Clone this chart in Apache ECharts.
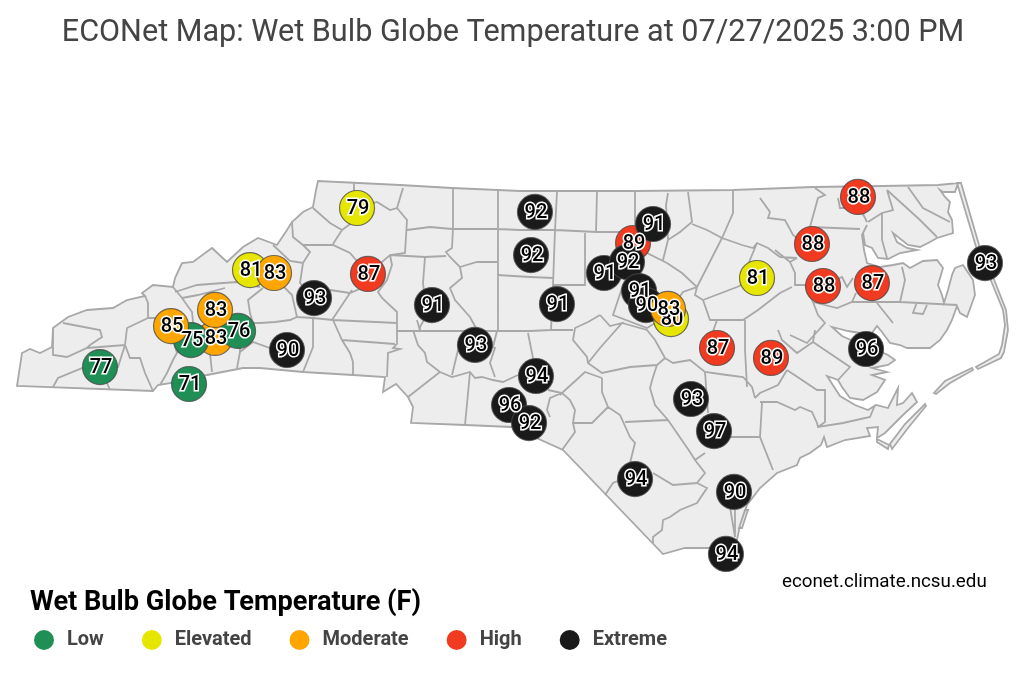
<!DOCTYPE html>
<html><head><meta charset="utf-8">
<style>html,body{margin:0;padding:0;background:#fff}#c{width:1024px;height:683px}</style>
<script src="https://cdn.jsdelivr.net/npm/echarts@6/dist/echarts.min.js"></script>
</head><body><div id="c"></div>
<script>
// ---- station readings (drawing order = stacking order)
const stationLon = [-83.577,-82.780,-82.547,-82.341,-82.762,-82.941,-82.547,-82.234,-82.019,-81.903,-81.661,-81.276,-81.178,-80.605,-80.220,-79.674,-79.915,-79.736,-79.683,-79.718,-79.486,-78.805,-78.626,-79.065,-78.859,-78.751,-78.689,-78.465,-78.492,-77.695,-78.053,-77.570,-78.286,-78.080,-78.787,-77.901,-77.973,-76.791,-77.203,-77.104,-76.666,-76.719,-75.654];
const stationLat = [35.261,35.140,35.469,35.519,35.454,35.554,35.669,35.954,35.933,35.383,35.754,36.397,35.926,35.704,35.419,35.197,34.990,34.861,36.369,36.061,35.711,36.147,36.283,35.933,36.011,35.804,35.704,35.604,35.676,35.897,35.397,35.326,35.033,34.804,34.461,34.369,33.926,36.476,36.140,35.840,35.861,35.390,36.004];
const stationVal = [77,71,83,76,75,85,83,81,83,90,93,79,87,91,93,94,96,92,92,92,91,89,91,91,92,91,90,80,83,81,87,89,93,97,94,90,94,88,88,88,87,96,93];
const catNames = ['Low','Elevated','Moderate','High','Extreme'];
const catColors = ['#1f8f55','#e6e600','#ffa500','#f03b20','#1a1a1a'];
const catUpper = [78,82,86,90,999]; // value below this belongs to the category

// ---- basemap trace (image-scale tracing, converted to lon/lat below)
const stateOutline = [[17,386],[22,353],[30,349],[40,353],[52,347],[53,328],[68,317],[87,310],[113,308],[127,300],[145,296],[142,293],[153,285],[173,287],[175,278],[182,263],[193,262],[212,248],[227,262],[243,247],[258,238],[277,245],[287,230],[292,222],[303,212],[313,207],[316,190],[318,181],[400,185],[452,188],[498,190],[520,191],[635,191],[733,190],[813,187],[883,186],[938,185],[958,183],[955,192],[943,192],[940,190],[945,197],[950,202],[948,212],[952,220],[953,233],[937,238],[930,242],[920,247],[908,245],[893,233],[897,242],[907,248],[917,250],[900,253],[888,259],[878,258],[872,248],[865,245],[863,233],[867,225],[862,235],[864,250],[867,263],[880,267],[893,265],[903,263],[910,268],[923,261],[937,260],[943,268],[938,285],[942,295],[944,303],[948,290],[952,275],[955,268],[963,265],[973,280],[975,295],[967,317],[960,313],[957,306],[952,320],[947,330],[940,340],[930,348],[917,348],[907,348],[900,345],[890,343],[882,332],[877,326],[872,333],[860,333],[848,331],[832,327],[842,336],[855,342],[868,346],[888,355],[895,360],[888,365],[872,368],[887,372],[872,375],[885,380],[877,392],[863,400],[850,398],[842,387],[838,380],[827,376],[840,396],[855,405],[868,410],[876,405],[888,408],[893,398],[898,388],[897,405],[903,403],[912,393],[917,402],[903,415],[885,433],[877,438],[878,427],[867,428],[870,436],[845,440],[827,447],[824,437],[821,445],[810,453],[800,458],[797,465],[777,473],[760,488],[747,505],[740,525],[737,540],[710,548],[685,548],[663,554],[563,450],[512,427],[465,425],[411,423],[413,407],[408,397],[396,384],[383,392],[385,377],[353,375],[303,372],[260,368],[243,368],[207,375],[189,380],[158,385],[153,391]];
const barrierIslands = [
 [[957,183],[961,183],[979,245],[988,265],[995,282],[1006,310],[1008,330],[1004,352],[1001,358],[978,369],[976,367],[999,354],[1002,345],[1005,325],[1003,310],[992,283],[977,250]],
 [[972,368],[973,370],[950,383],[936,394],[934,393],[945,381]],
 [[925,404],[926,406],[908,428],[892,449],[890,444],[905,424]],
 [[877,439],[889,445],[888,449],[877,442]],
 [[745,510],[748,510],[742,528],[739,528]]
];
const countyLines = [
 [[53,328],[53,355],[67,357],[87,348],[125,345],[130,358],[140,358],[145,373],[153,391]],
 [[63,323],[100,330],[102,337],[90,345],[87,348]],
 [[125,345],[127,328],[148,318],[148,303],[145,296]],
 [[53,387],[58,378],[85,367],[100,367]],[[100,367],[110,390]],[[100,367],[118,367],[125,345]],
 [[148,318],[160,318],[170,330],[177,353],[173,360],[167,373],[160,385]],
 [[173,287],[182,298],[192,312],[193,322],[191,340]],
 [[175,292],[197,285],[223,283],[237,282],[260,287]],
 [[182,298],[198,295],[225,288]],
 [[191,340],[177,353]],
 [[210,340],[210,353],[212,372]],
 [[240,345],[240,352],[237,368]],
 [[240,352],[253,342],[270,348],[287,350]],
 [[277,280],[292,295],[297,317]],
 [[263,288],[248,300],[250,313],[253,323],[238,331]],
 [[253,323],[260,323],[275,322],[290,320],[297,317],[313,318],[333,320],[397,323]],
 [[313,318],[313,347],[303,372]],
 [[333,320],[342,340],[350,353],[353,362],[353,375]],
 [[342,340],[395,344]],
 [[292,222],[293,237],[303,245],[333,245],[350,253],[368,274]],
 [[273,245],[290,261],[303,263],[310,252],[303,245]],
 [[303,263],[300,283],[314,298]],
 [[313,208],[330,223],[342,230],[333,244]],
 [[342,230],[353,222],[357,208]],
 [[357,208],[377,202],[390,210],[397,208],[403,188]],
 [[354,183],[354,195]],
 [[397,208],[407,220],[405,253],[390,255],[368,274]],
 [[407,230],[430,227],[452,229],[498,229],[520,230],[555,230],[597,232],[640,232]],
 [[390,255],[425,257],[446,256]],
 [[390,255],[392,265],[387,280],[378,292],[382,298],[397,312],[397,344],[393,348],[400,349],[388,353],[387,377]],
 [[352,290],[332,320]],[[330,290],[350,293],[362,288]],
 [[425,257],[423,283],[425,300]],[[432,305],[420,327],[420,331]],
 [[453,188],[453,228],[452,248],[446,252],[450,257],[460,267],[462,278],[450,288],[455,300],[470,317],[477,330]],
 [[460,267],[477,262],[497,262]],
 [[498,191],[498,330]],
 [[497,275],[530,277],[553,278]],
 [[557,192],[555,230],[553,285],[551,331]],
 [[597,192],[596,232]],[[635,191],[635,225]],
 [[585,233],[585,285],[553,285]],
 [[668,193],[666,205],[668,240],[680,232],[692,222],[688,192]],
 [[668,240],[663,260]],
 [[692,224],[707,230],[722,238],[733,213],[733,190]],
 [[722,238],[697,287],[683,292],[670,310]],
 [[627,262],[647,253],[667,263],[682,273],[697,287],[695,295],[703,300],[710,320],[743,320],[758,310],[780,293],[792,287]],
 [[703,300],[737,287],[757,278]],
 [[722,238],[742,245],[753,248],[757,243],[768,248],[780,257],[797,258]],
 [[757,243],[747,267],[757,278]],
 [[623,285],[613,315],[647,328],[660,320]],
 [[600,315],[610,326],[622,323],[600,348],[588,363]],
 [[600,315],[588,322],[575,328],[573,340],[587,357],[588,363],[602,373],[630,367],[657,365],[665,358],[673,363],[690,360],[705,372],[727,375],[743,377],[752,387],[755,398]],
 [[397,331],[457,331],[530,331],[551,330],[573,330]],
 [[528,333],[533,358]],
 [[413,330],[418,345],[425,353],[427,362],[440,372],[408,397]],
 [[417,320],[420,331]],[[497,331],[493,347],[495,348],[490,363],[495,377]],
 [[440,372],[452,377],[470,372],[475,378],[482,377],[493,380],[503,382],[518,375]],
 [[452,375],[458,350]],
 [[470,372],[465,425]],
 [[548,390],[562,393],[560,395]],
 [[622,323],[647,330],[655,340],[665,358]],
 [[657,365],[653,377],[650,388],[655,405],[668,420],[690,452],[695,460],[705,473],[697,483],[707,488],[697,503],[680,510],[670,517],[663,520],[662,530],[653,537],[653,543]],
 [[705,372],[708,413]],[[705,453],[695,460]],
 [[730,437],[760,437]],[[762,403],[760,437],[773,470]],
 [[602,378],[602,392],[608,407],[620,415],[630,437],[635,443],[630,463]],
 [[625,422],[668,420]],
 [[608,407],[592,423],[573,423],[575,410],[570,400],[562,393],[550,398],[547,410],[550,417]],
 [[562,393],[585,372],[602,378]],
 [[573,423],[575,432],[562,450]],
 [[653,473],[673,485],[697,483]],
 [[605,495],[613,483],[620,480]],
 [[730,507],[735,537]],[[735,510],[735,537]],
 [[760,198],[770,212],[768,218],[785,220],[793,235],[800,240]],
 [[815,188],[825,195],[818,198],[810,227]],
 [[810,227],[860,229]],[[838,198],[840,208],[860,208],[867,222]],
 [[887,190],[893,210],[882,213],[868,222]],[[882,213],[882,240],[887,258]],
 [[887,190],[920,220],[937,237]],
 [[908,187],[923,208],[950,222]],
 [[797,258],[790,262],[775,250]],
 [[790,262],[795,273],[795,285],[805,285],[813,302],[818,315],[825,323],[807,343],[790,335]],
 [[813,302],[837,308],[852,302],[900,302],[957,305]],
 [[852,302],[856,293]],[[823,286],[842,277],[847,287],[853,278]],
 [[900,302],[905,280],[902,267]],
 [[877,303],[885,313],[893,323]],
 [[917,302],[913,313],[923,314],[927,305]],
 [[778,330],[782,340],[797,353],[813,342],[815,330]],
 [[813,342],[850,367],[838,380]],
 [[787,370],[817,390],[825,390],[825,422],[818,427]],
 [[787,370],[778,385],[760,393],[755,398]],
 [[760,402],[777,402],[795,410],[800,407],[812,412],[817,423],[818,427],[843,423],[870,417],[875,405]],
 [[745,320],[745,350],[747,387]],[[717,320],[710,340]]
];

// simple linear relation between the traced sheet and degrees
const toGeo = p => [-84.32 + (p[0]-17)/111.7, 36.59 - (p[1]-181)/140];
const traced = [stateOutline].concat(barrierIslands, countyLines).flat();
const minX = Math.min(...traced.map(p=>p[0])), maxX = Math.max(...traced.map(p=>p[0]));
const minY = Math.min(...traced.map(p=>p[1])), maxY = Math.max(...traced.map(p=>p[1]));
const ring = a => { const r = a.map(toGeo); r.push(r[0]); return r; };
const geoJson = {type:'FeatureCollection',features:[
 {type:'Feature',properties:{name:'North Carolina'},geometry:{type:'MultiPolygon',coordinates:[stateOutline].concat(barrierIslands).map(a=>[ring(a)])}},
 {type:'Feature',properties:{name:'Counties'},geometry:{type:'MultiLineString',coordinates:countyLines.map(l=>l.map(toGeo))}}
]};
echarts.registerMap('nc', geoJson);

const catOf = v => catUpper.findIndex(u => v < u);
const chart = echarts.init(document.getElementById('c'), null, {renderer:'canvas'});
const font = 'Roboto';
chart.setOption({
 animation:false,
 backgroundColor:'#fff',
 title:[
  {text:'ECONet Map: Wet Bulb Globe Temperature at 07/27/2025 3:00 PM',left:508,textAlign:'center',top:13,textStyle:{fontFamily:font,fontSize:30.6,fontWeight:'normal',color:'#444'}},
  {text:'Wet Bulb Globe Temperature (F)',left:25,top:585,textStyle:{fontFamily:font,fontSize:27.2,fontWeight:'bold',color:'#000'}},
  {text:'econet.climate.ncsu.edu',left:777,top:568,textStyle:{fontFamily:font,fontSize:18.8,fontWeight:'normal',color:'#000'}}
 ],
 legend:{left:29,top:625,icon:'circle',itemWidth:20,itemHeight:20,itemGap:38,selectedMode:false,
  data:catNames,textStyle:{fontFamily:font,fontSize:20,fontWeight:'bold',color:'#444',padding:[0,0,0,8]}},
 geo:{map:'nc',silent:true,left:minX,top:minY,width:maxX-minX,height:maxY-minY,
  itemStyle:{areaColor:'#ededed',borderColor:'#a8a8a8',borderWidth:1.8},label:{show:false}},
 series:catNames.map((n,i)=>({name:n,type:'scatter',coordinateSystem:'geo',data:[],itemStyle:{color:catColors[i],opacity:1}})).concat([{
  name:'stations',type:'scatter',coordinateSystem:'geo',symbolSize:35,
  data:stationVal.map((v,i)=>({value:[stationLon[i],stationLat[i],v],itemStyle:{color:catColors[catOf(v)],opacity:1}})),
  itemStyle:{borderColor:'rgba(70,70,70,0.75)',borderWidth:1.2,opacity:1},
  label:{show:true,position:'inside',offset:[1,1],formatter:p=>String(p.value[2]),fontFamily:font,fontSize:20,fontWeight:500,color:'#000',textBorderColor:'#fff',textBorderWidth:3}
 }])
});
</script></body></html>
